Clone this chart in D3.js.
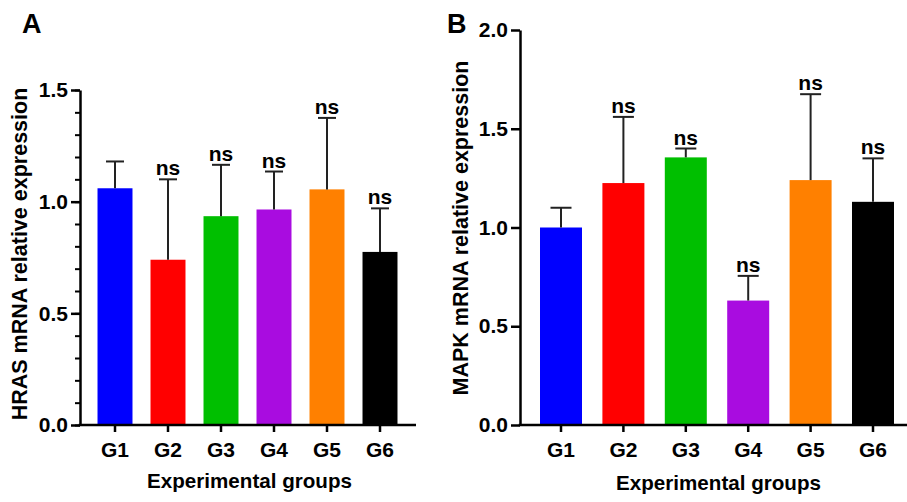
<!DOCTYPE html>
<html>
<head>
<meta charset="utf-8">
<script src="https://cdn.jsdelivr.net/npm/d3@7/dist/d3.min.js"></script>
<style>
  html, body { margin: 0; padding: 0; background: #fff; }
  svg { display: block; }
  text { font-family: "Liberation Sans", Arial, sans-serif; font-weight: bold; fill: #000; }
</style>
</head>
<body>
<svg id="chart" width="907" height="502"></svg>
<script>
// ---- data ----
const groups = ["G1", "G2", "G3", "G4", "G5", "G6"];
const barColors = ["#0000FF", "#FF0000", "#00BF00", "#A90CE0", "#FF8000", "#000000"];

const hrasMean = [1.06, 0.74, 0.935, 0.965, 1.055, 0.775];
const hrasSD   = [0.12, 0.36, 0.23, 0.17, 0.32, 0.195];
const hrasSig  = ["", "ns", "ns", "ns", "ns", "ns"];
const hrasTicks = [0.0, 0.5, 1.0, 1.5];
const hrasMinorTicks = d3.range(0, 1.501, 0.1);

const mapkMean = [1.0, 1.225, 1.355, 0.63, 1.24, 1.13];
const mapkSD   = [0.10, 0.335, 0.045, 0.125, 0.435, 0.22];
const mapkSig  = ["", "ns", "ns", "ns", "ns", "ns"];
const mapkTicks = [0.0, 0.5, 1.0, 1.5, 2.0];

const xTitle = "Experimental groups";

const svg = d3.select("#chart");

function panel(cfg) {
  const g = svg.append("g");
  const x = d3.scaleBand().domain(groups).range(cfg.xRange).paddingInner(cfg.padInner).paddingOuter(cfg.padOuter);
  const y = d3.scaleLinear().domain([0, cfg.yMax]).range([cfg.y0, cfg.yTop]);

  const data = groups.map((gname, i) => ({ g: gname, m: cfg.mean[i], sd: cfg.sd[i], sig: cfg.sig[i], c: barColors[i] }));

  // bars
  g.selectAll("rect.bar").data(data).enter().append("rect")
    .attr("x", d => x(d.g)).attr("width", x.bandwidth())
    .attr("y", d => y(d.m)).attr("height", d => y(0) - y(d.m))
    .attr("fill", d => d.c);

  // error bars (upper)
  const eb = g.selectAll("g.eb").data(data).enter().append("g");
  eb.append("line")
    .attr("x1", d => x(d.g) + x.bandwidth() / 2).attr("x2", d => x(d.g) + x.bandwidth() / 2)
    .attr("y1", d => y(d.m)).attr("y2", d => y(d.m + d.sd))
    .attr("stroke", "#222").attr("stroke-width", 2);
  eb.append("line")
    .attr("x1", d => x(d.g) + x.bandwidth() / 2 - cfg.cap / 2).attr("x2", d => x(d.g) + x.bandwidth() / 2 + cfg.cap / 2)
    .attr("y1", d => y(d.m + d.sd)).attr("y2", d => y(d.m + d.sd))
    .attr("stroke", "#222").attr("stroke-width", 2);
  eb.append("text")
    .attr("x", d => x(d.g) + x.bandwidth() / 2)
    .attr("y", d => y(d.m + d.sd) - 4)
    .attr("text-anchor", "middle").style("font-size", "21px")
    .text(d => d.sig);

  // minor ticks
  if (cfg.minor) {
    g.append("g").attr("transform", `translate(${cfg.axisX},0)`)
      .call(d3.axisLeft(y).tickValues(cfg.minor).tickSize(5).tickFormat(""))
      .call(s => s.select(".domain").remove())
      .call(s => s.selectAll("line").attr("stroke", "#000").attr("stroke-width", 2));
  }
  // y axis
  const ya = g.append("g").attr("transform", `translate(${cfg.axisX},0)`)
    .call(d3.axisLeft(y).tickValues(cfg.ticks).tickSize(9).tickPadding(3).tickFormat(d3.format(".1f")).tickSizeOuter(0));
  ya.select(".domain").attr("stroke", "#000").attr("stroke-width", 2.5);
  ya.selectAll(".tick line").attr("stroke", "#000").attr("stroke-width", 2.5);
  ya.selectAll(".tick text").style("font-size", "21px").attr("fill", "#000")
    .style("font-family", "'Liberation Sans', Arial, sans-serif").style("font-weight", "bold");

  // x axis
  const xa = g.append("g").attr("transform", `translate(0,${cfg.y0})`)
    .call(d3.axisBottom(x).tickSize(7).tickPadding(10).tickSizeOuter(0));
  xa.select(".domain").attr("d", `M${cfg.axisX - 1.25},0H${cfg.xEnd}`).attr("stroke", "#000").attr("stroke-width", 2.5);
  xa.selectAll(".tick line").attr("stroke", "#000").attr("stroke-width", 2.5);
  xa.selectAll(".tick text").style("font-size", "21px").attr("fill", "#000")
    .style("font-family", "'Liberation Sans', Arial, sans-serif").style("font-weight", "bold");

  // titles
  g.append("text").attr("x", cfg.xTitleX).attr("y", cfg.xTitleY).attr("text-anchor", "middle")
    .style("font-size", "20.6px").text(xTitle);
  g.append("text").attr("transform", `translate(${cfg.yTitleX},${cfg.yTitleY}) rotate(-90)`)
    .attr("text-anchor", "middle").style("font-size", "21.5px").text(cfg.yTitle);
  g.append("text").attr("x", cfg.labelX).attr("y", 33).style("font-size", "27px").text(cfg.label);
}

panel({
  label: "A", labelX: 22,
  mean: hrasMean, sd: hrasSD, sig: hrasSig, ticks: hrasTicks, minor: hrasMinorTicks,
  yMax: 1.5, y0: 425, yTop: 90, axisX: 80, xEnd: 416,
  xRange: [88.5, 406.5], padInner: 0.34, padOuter: 0.17, cap: 18,
  yTitle: "HRAS mRNA relative expression", yTitleX: 27, yTitleY: 254,
  xTitleX: 249.5, xTitleY: 488
});

panel({
  label: "B", labelX: 447,
  mean: mapkMean, sd: mapkSD, sig: mapkSig, ticks: mapkTicks, minor: null,
  yMax: 2.0, y0: 425, yTop: 30, axisX: 520, xEnd: 915,
  xRange: [529.8, 904.2], padInner: 0.327, padOuter: 0.1635, cap: 21,
  yTitle: "MAPK mRNA relative expression", yTitleX: 468, yTitleY: 228,
  xTitleX: 718.5, xTitleY: 490
});
</script>
</body>
</html>
